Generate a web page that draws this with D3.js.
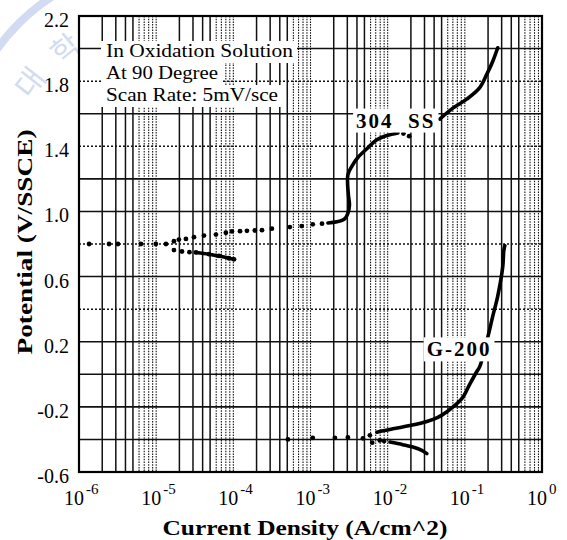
<!DOCTYPE html>
<html><head><meta charset="utf-8">
<script src="https://cdn.jsdelivr.net/npm/d3@7/dist/d3.min.js"></script>
<style>body{margin:0;background:#fff}svg{display:block;font-family:'Liberation Serif','Times New Roman',serif}</style>
</head><body>
<svg id="c" width="567" height="540"></svg>
<script>
// ---- data ----
const yTicks = [2.2, 1.8, 1.4, 1.0, 0.6, 0.2, -0.2, -0.6];
const yGridSolid = [2.0, 1.6, 1.2, 1.0, 0.6, 0.2, 0.0, -0.2, -0.4];
const yGridDotted = [1.8, 1.4, 0.8, 0.4];
const xExponents = [-6, -5, -4, -3, -2, -1, 0];
const noteLines = ["In Oxidation Solution", "At 90 Degree", "Scan Rate: 5mV/sce"];
const noteWidths = [187, 112, 172];

// 304 SS: sparse measured points (drawn as dots)
const ss304Dots = [[1.35e-6,0.80],[2.45e-6,0.80],[3.2e-6,0.80],[6.35e-6,0.80],[9.9e-6,0.80],[1.34e-5,0.80],
  [1.70e-5,0.817],[1.97e-5,0.827],[2.43e-5,0.831],[3.09e-5,0.842],[4.16e-5,0.852],[5.95e-5,0.858],
  [8.0e-5,0.869],[9.6e-5,0.877],[1.22e-4,0.879],[1.50e-4,0.881],[1.90e-4,0.883],[2.35e-4,0.885],
  [3.16e-4,0.894],[5.4e-4,0.904],[7.7e-4,0.910],[1.07e-3,0.921],[1.41e-3,0.925],
  [1.70e-5,0.7625],[2.16e-5,0.754],[2.7e-5,0.750],
  [1.6e-2,1.478],[1.9e-2,1.462]];
// 304 SS: dense parts (drawn as thick lines)
const ss304Lower = [[3.28e-5,0.748],[4.83e-5,0.7375],[6.5e-5,0.727],[8.77e-5,0.7125],[1.02e-4,0.706]];
const ss304Anodic = [[1.68e-3,0.929],[2.2e-3,0.936],[2.79e-3,0.956],[3.05e-3,0.988],[3.2e-3,1.04],[3.1e-3,1.10],
  [3.05e-3,1.225],[3.43e-3,1.277],[4.11e-3,1.331],[5.38e-3,1.385],[7.25e-3,1.44],[9.77e-3,1.466],[1.36e-2,1.482]];
const ss304Transpass = [[0.0474,1.567],[0.070,1.634],[0.107,1.691],[0.156,1.76],[0.193,1.843],[0.231,1.924],[0.267,2.005]];

// G-200
const g200Dots = [[5.1e-4,-0.40],[1.07e-3,-0.39],[2.07e-3,-0.39],[3.05e-3,-0.388],[4.78e-3,-0.393],
  [5.88e-3,-0.375],[6.3e-3,-0.42],[7.9e-3,-0.406],[9.0e-3,-0.41]];
const g200Anodic = [[7.25e-3,-0.356],[1.17e-2,-0.335],[1.94e-2,-0.315],[3.22e-2,-0.29],[4.47e-2,-0.265],
  [5.85e-2,-0.23],[9.14e-2,-0.15],[0.116,-0.06],[0.143,0.017],[0.156,0.047],[0.193,0.205],[0.231,0.36],
  [0.267,0.48],[0.31,0.66],[0.32,0.76],[0.33,0.79]];
const g200Cathodic = [[1.07e-2,-0.416],[1.57e-2,-0.432],[2.12e-2,-0.447],[2.77e-2,-0.467],[3.22e-2,-0.487]];

const seriesLabels = [
  {text:"304  SS", x:0.0039, y:1.515},
  {text:"G-200", x:0.032, y:0.11}
];

// ---- drawing ----
const svg = d3.select("#c");
const L = 79, R = 542, T = 16, B = 472;
const x = d3.scaleLog().domain([1e-6, 1]).range([L, R]);
const y = d3.scaleLinear().domain([-0.6, 2.2]).range([B, T]);
const serif = "'Liberation Serif','Times New Roman',serif";

// watermark (faint seal in the top-left corner)
svg.append("clipPath").attr("id", "wmclip").append("rect").attr("x", 0).attr("y", 0).attr("width", 112).attr("height", 112);
const wm = svg.append("g").attr("opacity", 0.6);
wm.append("circle").attr("clip-path", "url(#wmclip)").attr("cx", 160).attr("cy", 165).attr("r", 200)
  .attr("fill", "none").attr("stroke", "#b4c4ea").attr("stroke-width", 8);
wm.append("text").attr("transform", "translate(30,100) rotate(-52)")
  .attr("font-family", "'Noto Sans CJK KR'").attr("font-size", 30).attr("fill", "#b4c4ea").text("대");
wm.append("text").attr("transform", "translate(62,66) rotate(-40)")
  .attr("font-family", "'Noto Sans CJK KR'").attr("font-size", 30).attr("fill", "#b4c4ea").text("학");

svg.append("rect").attr("x", L).attr("y", T).attr("width", R - L).attr("height", B - T).attr("fill", "#fff");

const grid = svg.append("g");
// vertical grid lines
const decades = d3.range(-6, 0);
decades.forEach(e => {
  for (let m = 2; m <= 10; m++) {
    const v = m * Math.pow(10, e);
    if (v >= 1) continue;
    const dotted = m >= 6;
    grid.append("line").attr("x1", x(v)).attr("x2", x(v)).attr("y1", T).attr("y2", B)
      .attr("stroke", "#111").attr("stroke-width", dotted ? 1.1 : 1.5)
      .attr("stroke-dasharray", dotted ? "1.5,1.2" : null);
  }
});
yGridSolid.forEach(v => grid.append("line").attr("x1", L).attr("x2", R).attr("y1", y(v)).attr("y2", y(v))
  .attr("stroke", "#111").attr("stroke-width", 1.6));
yGridDotted.forEach(v => grid.append("line").attr("x1", L).attr("x2", R).attr("y1", y(v)).attr("y2", y(v))
  .attr("stroke", "#111").attr("stroke-width", 1.5).attr("stroke-dasharray", "2,2"));

// curves
const line = d3.line().x(d => x(d[0])).y(d => y(d[1])).curve(d3.curveCatmullRom);
const curves = svg.append("g").attr("fill", "none").attr("stroke", "#000")
  .attr("stroke-width", 3.6).attr("stroke-linecap", "round").attr("stroke-linejoin", "round");
[ss304Lower, ss304Anodic, ss304Transpass, g200Anodic, g200Cathodic].forEach(s =>
  curves.append("path").attr("d", line(s)));
svg.append("g").selectAll("circle").data(ss304Dots.concat(g200Dots).concat(ss304Lower)).join("circle")
  .attr("cx", d => x(d[0])).attr("cy", d => y(d[1])).attr("r", 2.4).attr("fill", "#000");

// labels with white backgrounds
const lg = svg.append("g");
seriesLabels.forEach(l => {
  const t = lg.append("text").attr("x", x(l.x)).attr("y", y(l.y))
    .attr("font-family", serif).attr("font-size", 21).attr("font-weight", "bold")
    .attr("letter-spacing", 2).style("white-space", "pre").text(l.text);
  const bb = t.node().getBBox();
  lg.insert("rect", () => t.node()).attr("x", bb.x - 3).attr("y", bb.y)
    .attr("width", bb.width + 6).attr("height", bb.height).attr("fill", "#fff");
});

const ng = svg.append("g");
const lineGap = 22;
noteLines.forEach((s, i) => {
  const by = 57 + i * lineGap;
  ng.append("rect").attr("x", 101).attr("y", by - 16).attr("width", noteWidths[i] + 9).attr("height", lineGap)
    .attr("fill", "#fff");
  ng.append("text").attr("x", 106).attr("y", by)
    .attr("font-family", serif).attr("font-size", 19)
    .attr("textLength", noteWidths[i]).attr("lengthAdjust", "spacingAndGlyphs").text(s);
});

// frame
svg.append("rect").attr("x", L).attr("y", T).attr("width", R - L).attr("height", B - T)
  .attr("fill", "none").attr("stroke", "#000").attr("stroke-width", 2.2);

// y tick labels
svg.append("g").selectAll("text").data(yTicks).join("text")
  .attr("x", 69).attr("y", d => y(d) + 4).attr("dy", "0.35em").attr("text-anchor", "end")
  .attr("font-family", serif).attr("font-size", 20).text(d => d3.format(".1f")(d).replace("−", "-"));

// x tick labels
const xt = svg.append("g").selectAll("text").data(xExponents).join("text")
  .attr("x", d => x(Math.pow(10, d)) - 15).attr("y", 505)
  .attr("font-family", serif).attr("font-size", 20);
xt.append("tspan").text("10");
xt.append("tspan").attr("dx", 2).attr("dy", -11).attr("font-size", 15).text(d => d === 0 ? "0" : "-" + Math.abs(d));

// axis titles
svg.append("text").attr("x", 305).attr("y", 535).attr("text-anchor", "middle")
  .attr("font-family", serif).attr("font-weight", "bold").attr("font-size", 22)
  .attr("textLength", 285).attr("lengthAdjust", "spacingAndGlyphs").text("Current Density (A/cm^2)");
svg.append("text").attr("transform", "translate(32,242) rotate(-90)").attr("text-anchor", "middle")
  .attr("font-family", serif).attr("font-weight", "bold").attr("font-size", 22)
  .attr("textLength", 225).attr("lengthAdjust", "spacingAndGlyphs").text("Potential (V/SSCE)");
</script>
</body></html>
